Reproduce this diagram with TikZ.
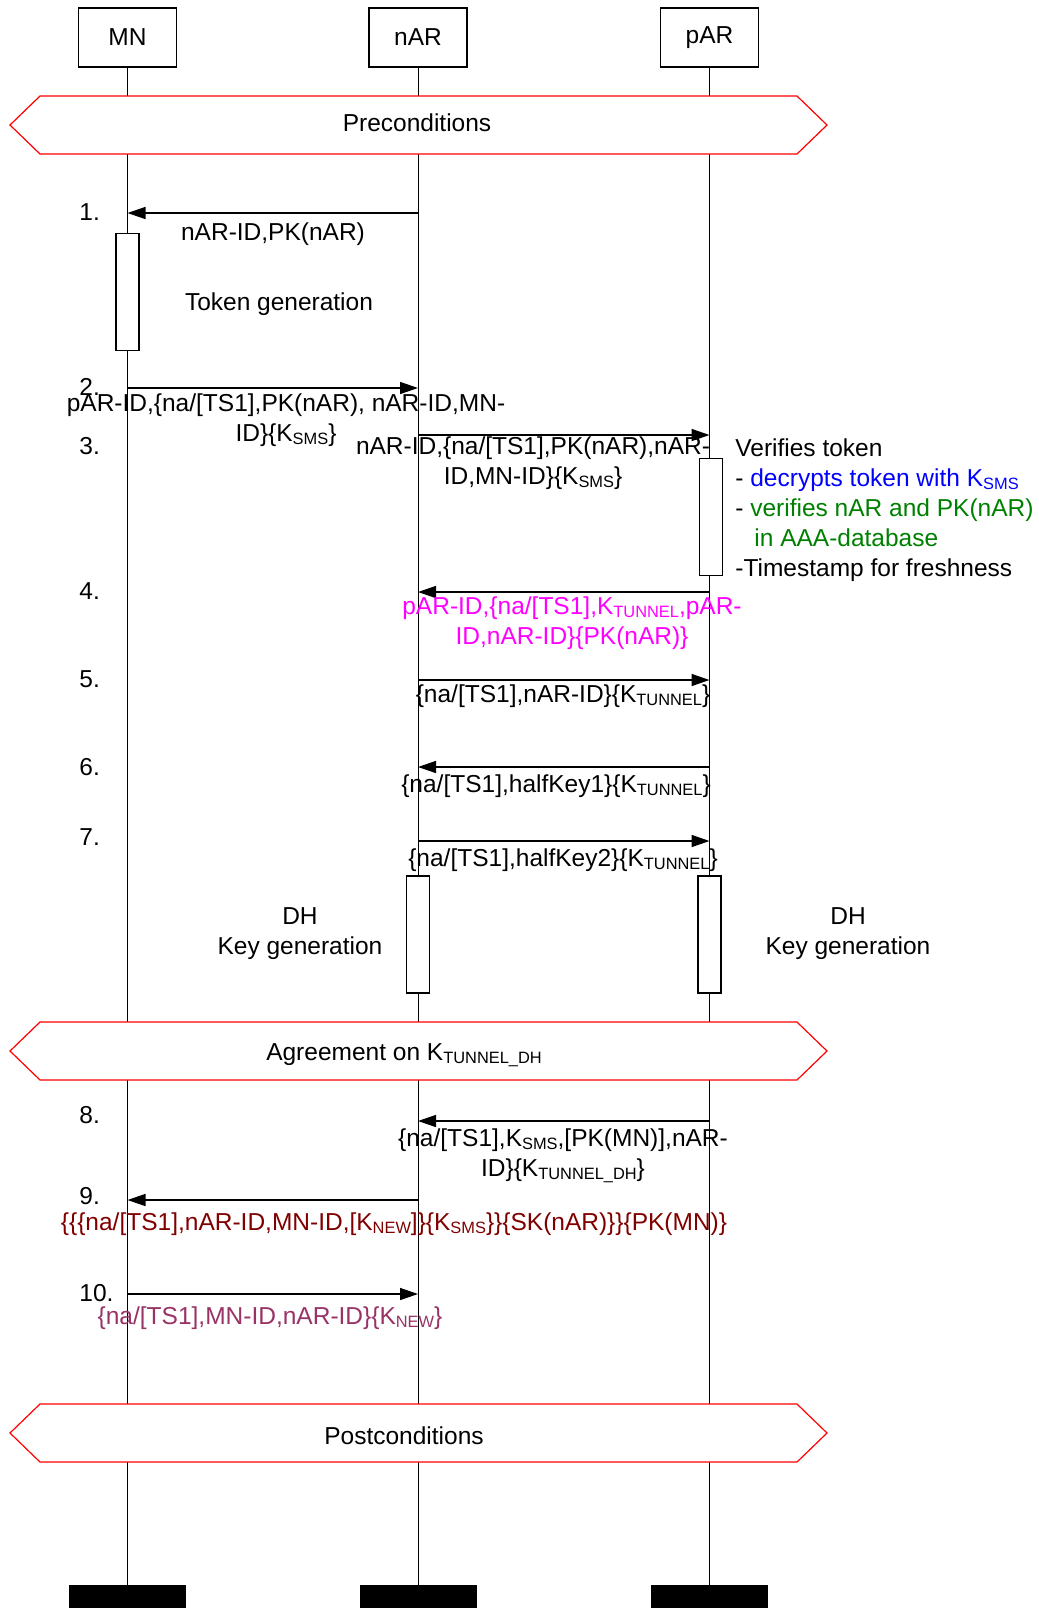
\documentclass[tikz,border=0pt]{standalone}
\usepackage{fontspec}
\setmainfont{Liberation Sans}
\usetikzlibrary{arrows.meta,positioning}
\definecolor{bandred}{RGB}{255,0,0}
\definecolor{tokenblue}{RGB}{0,0,255}
\definecolor{tokengreen}{RGB}{0,128,0}
\definecolor{tunnelmagenta}{RGB}{255,0,255}
\definecolor{finalred}{RGB}{128,0,0}
\definecolor{newplum}{RGB}{153,51,102}
\newcommand{\keysub}[1]{K\raisebox{-0.12em}{\fontsize{8.2}{8}\selectfont #1}}

\begin{document}
\begin{tikzpicture}[>={Triangle[length=9pt,width=6pt]},x=0.5pt,y=-0.5pt,
  font=\fontsize{12.25}{15}\selectfont,
  entity/.style={draw,line width=0.6pt,minimum width=49pt,minimum height=29.5pt,inner sep=0pt},
  lifeend/.style={fill=black,minimum width=58.5pt,minimum height=11.5pt,inner sep=0pt},
  lifeline/.style={line width=0.5pt},
  band/.style={draw=bandred,fill=white,line width=0.6pt},
  msg/.style={->,line width=0.75pt},
  activation/.style={draw,fill=white,line width=0.6pt,minimum width=11.5pt,minimum height=58.5pt,inner sep=0pt},
  msglabel/.style={align=center,inner sep=0pt},
  stepnum/.style={anchor=west,inner sep=0pt}]
 \useasboundingbox (0,0) rectangle (1039,1608);
 % participants
 \node[entity] (mn) at (127.5,37.5) {MN};
 \node[entity] (nar) at (418,37.5) {nAR};
 \node[entity] (par) at (709.5,37.5) {pAR};
 \node[lifeend] (mn-end) at (127.5,1596.5) {};
 \node[lifeend] (nar-end) at (418,1596.5) {};
 \node[lifeend] (par-end) at (709.5,1596.5) {};
 \foreach \p in {mn,nar,par}
   \draw[lifeline] (\p.south) -- (\p-end.north);
 % condition bands
 \foreach \top/\tx/\ty/\nm/\txt in {96/417/27/pre/Preconditions,
     1022/404/33/agree/{Agreement on \keysub{TUNNEL\_DH}},
     1404/404/32/post/Postconditions}{
   \draw[band] (10,\top+29) -- (40,\top) -- (797,\top) -- (827,\top+29)
     -- (797,\top+58) -- (40,\top+58) -- cycle;
   \node (\nm) at (\tx,\top+\ty) {\txt};
 }
 % message anchors on the lifelines
 \foreach \n/\y in {1/213,2/388,3/435,4/592,5/680,6/767,7/841,8/1121,9/1200,10/1294}{
   \coordinate (mn\n) at (127.5,\y);
   \coordinate (nar\n) at (418,\y);
   \coordinate (par\n) at (709.5,\y);
 }
 \foreach \n/\y in {1/212,2/387,3/446,4/591,5/679,6/767,7/837,8/1115,9/1196,10/1293}
   \node[stepnum] (num\n) at (79,\y) {\n.};
 % activations
 \node[activation] (act-mn) at (127.5,292) {};
 \node[activation] (act-par1) at (711,517) {};
 \node[activation] (act-nar) at (418,934.5) {};
 \node[activation] (act-par2) at (709.5,934.5) {};
 % messages
 \draw[msg] (nar1) -- (mn1);
 \node[msglabel] (l1) at (273,234) {nAR-ID,PK(nAR)};
 \node[msglabel] (tokengen) at (279,304) {Token generation};
 \draw[msg] (mn2) -- (nar2);
 \node[msglabel] (l2) at (286,420) {pAR-ID,\{na/[TS1],PK(nAR), nAR-ID,MN-\\ID\}\{\keysub{SMS}\}};
 \draw[msg] (nar3) -- (par3);
 \node[msglabel] (l3) at (533,463) {nAR-ID,\{na/[TS1],PK(nAR),nAR-\\ID,MN-ID\}\{\keysub{SMS}\}};
 \node[anchor=north west,align=left,inner sep=0pt] (verify) at (735,438)
   {Verifies token\\
    - \textcolor{tokenblue}{decrypts token with \keysub{SMS}}\\
    - \textcolor{tokengreen}{verifies nAR and PK(nAR)}\\
    \hspace*{9.5pt}\textcolor{tokengreen}{in AAA-database}\\
    -Timestamp for freshness};
 \draw[msg] (par4) -- (nar4);
 \node[msglabel,text=tunnelmagenta] (l4) at (572,623)
   {pAR-ID,\{na/[TS1],\keysub{TUNNEL},pAR-\\ID,nAR-ID\}\{PK(nAR)\}};
 \draw[msg] (nar5) -- (par5);
 \node[msglabel] (l5) at (563,696) {\{na/[TS1],nAR-ID\}\{\keysub{TUNNEL}\}};
 \draw[msg] (par6) -- (nar6);
 \node[msglabel] (l6) at (556,786) {\{na/[TS1],halfKey1\}\{\keysub{TUNNEL}\}};
 \draw[msg] (nar7) -- (par7);
 \node[msglabel] (l7) at (563,860) {\{na/[TS1],halfKey2\}\{\keysub{TUNNEL}\}};
 \node[msglabel] (dh-nar) at (300,934) {DH\\Key generation};
 \node[msglabel] (dh-par) at (848,934) {DH\\Key generation};
 \draw[msg] (par8) -- (nar8);
 \node[msglabel] (l8) at (563,1156) {\{na/[TS1],\keysub{SMS},[PK(MN)],nAR-\\ID\}\{\keysub{TUNNEL\_DH}\}};
 \draw[msg] (nar9) -- (mn9);
 \node[msglabel,text=finalred] (l9) at (394,1224)
   {\{\{\{na/[TS1],nAR-ID,MN-ID,[\keysub{NEW}]\}\{\keysub{SMS}\}\}\{SK(nAR)\}\}\{PK(MN)\}};
 \draw[msg] (mn10) -- (nar10);
 \node[msglabel,text=newplum] (l10) at (270,1318) {\{na/[TS1],MN-ID,nAR-ID\}\{\keysub{NEW}\}};
\end{tikzpicture}
\end{document}
